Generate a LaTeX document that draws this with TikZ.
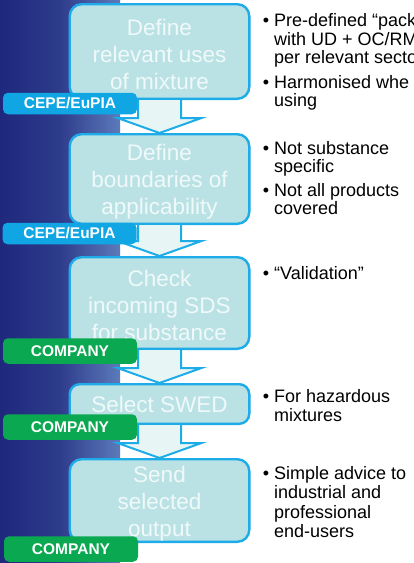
\documentclass[tikz,border=0pt]{standalone}
\usepackage{fontspec}
\setmainfont{Liberation Sans}
\usetikzlibrary{calc}
\definecolor{bandL}{RGB}{30,40,125}
\definecolor{bandM}{RGB}{46,60,140}
\definecolor{bandR}{RGB}{92,122,186}
\definecolor{cyanline}{RGB}{30,172,232}
\definecolor{boxfill}{RGB}{186,226,229}
\definecolor{boxtext}{RGB}{240,249,249}
\definecolor{arrowfill}{RGB}{232,245,245}
\definecolor{cepe}{RGB}{16,166,228}
\definecolor{company}{RGB}{10,168,80}
\tikzset{
  stepbox/.style={draw=cyanline, line width=2.4pt, fill=boxfill, rounded corners=12pt,
    minimum width=179.6pt, inner sep=0pt},
  steptext/.style={text=boxtext, align=center,
    font=\fontsize{22.5}{27}\selectfont, inner sep=0pt},
  tagbox/.style={rounded corners=5pt, minimum width=134pt, text=white,
    font=\fontsize{15.5}{16}\selectfont\bfseries, inner sep=0pt},
  cepetag/.style={tagbox, fill=cepe, minimum height=21.5pt},
  comptag/.style={tagbox, fill=company, minimum height=25.5pt},
  arrowline/.style={draw=cyanline, line width=2pt, line join=miter},
  arrowbody/.style={fill=arrowfill},
  bulletmark/.style={anchor=base, inner sep=0pt, font=\fontsize{18}{18}\selectfont},
  note/.style={anchor=base west, inner sep=0pt, font=\fontsize{18}{18}\selectfont, text=black},
}
\newcommand\blockarr[2]{%
  \fill[arrowbody] let \p1=(#1.south), \p2=(#2.north) in
    (\x1-21.5pt,\y1) -- (\x1-21.5pt,\y2+15pt) -- (\x1-42pt,\y2+15pt) -- (\x1,\y2)
    -- (\x1+42pt,\y2+15pt) -- (\x1+21.5pt,\y2+15pt) -- (\x1+21.5pt,\y1) -- cycle;
  \draw[arrowline] let \p1=(#1.south), \p2=(#2.north) in
    (\x1-21.5pt,\y1) -- (\x1-21.5pt,\y2+15pt) -- (\x1-42pt,\y2+15pt) -- (\x1,\y2)
    -- (\x1+42pt,\y2+15pt) -- (\x1+21.5pt,\y2+15pt) -- (\x1+21.5pt,\y1);
}
\begin{document}
\begin{tikzpicture}[x=1pt,y=-1pt]
\useasboundingbox (0,0) rectangle (413,563);
\clip (0,0) rectangle (413,563);
\fill[white] (0,0) rectangle (413,563);
\shade[left color=bandL, right color=bandR, middle color=bandM] (0,0) rectangle (120,563);

% steps
\node[stepbox, minimum height=94.6pt] (b1) at (159.5,51.5) {};
\node[stepbox, minimum height=89.6pt] (b2) at (159.5,179) {};
\node[stepbox, minimum height=91.6pt] (b3) at (159.5,303) {};
\node[stepbox, minimum height=39.6pt, rounded corners=10pt] (b4) at (159.5,404) {};
\node[stepbox, minimum height=82.6pt] (b5) at (159.5,500.5) {};
\node[steptext] (b1t) at ([yshift=-2.5pt]b1.center) {Define\\relevant uses\\of mixture};
\node[steptext] (b2t) at ([yshift=-2.5pt]b2.center) {Define\\boundaries of\\applicability};
\node[steptext] (b3t) at ([yshift=-2.5pt]b3.center) {Check\\incoming SDS\\for substance};
\node[steptext] (b4t) at (b4.center) {Select SWED};
\node[steptext] (b5t) at ([yshift=-3.5pt]b5.center) {Send\\selected\\output};

% arrows
\blockarr{b1}{b2}
\blockarr{b2}{b3}
\blockarr{b3}{b4}
\blockarr{b4}{b5}

% tags
\node[cepetag] (t1) at (70,103.5) {CEPE/EuPIA};
\node[cepetag] (t2) at (69.5,233.5) {CEPE/EuPIA};
\node[comptag] (t3) at (70,351) {COMPANY};
\node[comptag] (t4) at (70,427) {COMPANY};
\node[comptag] (t5) at (71,549) {COMPANY};

% notes
\node[bulletmark] (p1) at (266,26.7) {•};
\node[note] (n1a) at (274,26.7) {Pre-defined “pack};
\node[note] (n1b) at (274,45) {with UD + OC/RM};
\node[note] (n1c) at (274,63) {per relevant secto};
\node[bulletmark] (p2) at (266,88) {•};
\node[note] (n2a) at (274,88) {Harmonised whe};
\node[note] (n2b) at (274,106) {using};

\node[bulletmark] (p3) at (266,154) {•};
\node[note] (n3a) at (274,154) {Not substance};
\node[note] (n3b) at (274,172) {specific};
\node[bulletmark] (p4) at (266,196) {•};
\node[note] (n4a) at (274,196) {Not all products};
\node[note] (n4b) at (274,214) {covered};

\node[bulletmark] (p5) at (266,279) {•};
\node[note] (n5a) at (274,279) {“Validation”};

\node[bulletmark] (p6) at (266,402) {•};
\node[note] (n6a) at (274,402) {For hazardous};
\node[note] (n6b) at (274,421.5) {mixtures};

\node[bulletmark] (p7) at (266,479) {•};
\node[note] (n7a) at (274,479) {Simple advice to};
\node[note] (n7b) at (274,498.5) {industrial and};
\node[note] (n7c) at (274,518) {professional};
\node[note] (n7d) at (274,537.5) {end-users};
\end{tikzpicture}
\end{document}
